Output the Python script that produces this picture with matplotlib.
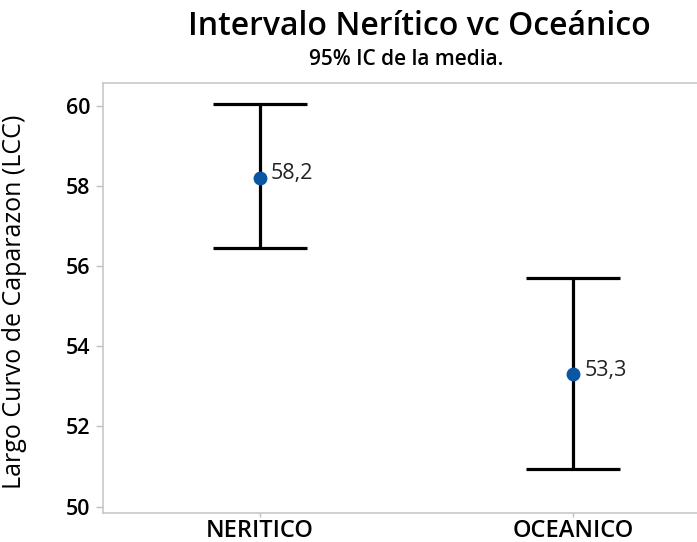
import matplotlib
matplotlib.use("Agg")
import matplotlib.pyplot as plt

# Interval plot: mean and 95% CI for each zone
groups = ["NERITICO", "OCEANICO"]
means = [58.2, 53.3]
ci_lower = [56.45, 50.95]
ci_upper = [60.05, 55.70]
mean_labels = ["58,2", "53,3"]
yticks = [50, 52, 54, 56, 58, 60]

plt.rcParams["font.family"] = ["Open Sans", "DejaVu Sans"]

fig = plt.figure(figsize=(6.97, 5.42), dpi=100)
W, H = 697, 542
ax = fig.add_axes([103 / W, (H - 513) / H, 627 / W, 430 / H])

xpos = list(range(1, len(groups) + 1))
yerr = [[m - lo for m, lo in zip(means, ci_lower)],
        [hi - m for m, hi in zip(means, ci_upper)]]
ax.errorbar(xpos, means, yerr=yerr, fmt="none", ecolor="black",
            elinewidth=2.3, capsize=0, zorder=2)
# caps drawn as horizontal segments
for x, lo, hi in zip(xpos, ci_lower, ci_upper):
    ax.hlines([lo, hi], x - 0.15, x + 0.15, colors="black", linewidth=2.3, zorder=2)
ax.plot(xpos, means, "o", color="#0A56A3", markersize=9, zorder=3)
for x, m, lab in zip(xpos, means, mean_labels):
    ax.annotate(lab, (x, m), xytext=(8, 3), textcoords="offset points",
                va="center", ha="left", fontsize=15.5, color="#222222")

ax.set_xlim(0.5, 2.5)
ax.set_ylim(49.84, 60.57)
ax.set_xticks(xpos)
ax.set_xticklabels(groups, fontsize=17, fontweight="semibold")
ax.set_yticks(yticks)
ax.set_yticklabels([str(t) for t in yticks], fontsize=15.5, fontweight="semibold")
ax.set_ylabel("Largo Curvo de Caparazon (LCC)", fontsize=18)
ax.yaxis.set_label_coords((27 - 103) / 627, 0.49)

for s in ax.spines.values():
    s.set_color("#c8c8c8")
    s.set_linewidth(1.2)
ax.tick_params(axis="y", colors="#c0c0c0", length=5, width=1, pad=4)
ax.tick_params(axis="x", colors="#c0c0c0", length=3, width=1, pad=1)
for lab in ax.get_xticklabels() + ax.get_yticklabels():
    lab.set_color("black")

fig.text(419 / W, 1 - 35 / H, "Intervalo Nerítico vc Oceánico", ha="center", va="baseline",
         fontsize=23, fontweight="semibold", color="black")
fig.text(406 / W, 1 - 65 / H, "95% IC de la media.", ha="center", va="baseline",
         fontsize=15, fontweight="semibold", color="black")

fig.savefig("out.png", dpi=100)
